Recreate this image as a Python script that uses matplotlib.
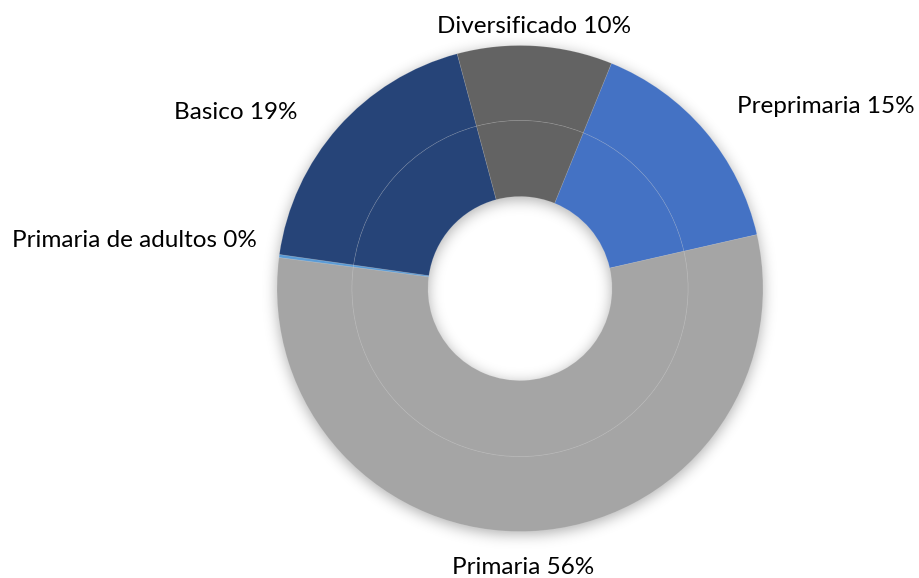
import numpy as np
import matplotlib
matplotlib.use("Agg")
import matplotlib.pyplot as plt

# data (percent share per level)
niveles = ["Preprimaria", "Primaria", "Primaria de adultos", "Basico", "Diversificado"]
valores = [15.3, 55.6, 0.2, 18.6, 10.3]
colores = ["#4472C4", "#A5A5A5", "#5B9BD5", "#264478", "#636363"]

# label placement (pixel x, baseline y from top)
lab_pos = [(826, 113), (523, 574), (134, 247), (236, 119), (534, 33)]

W, H = 919, 578
cx, cy = 520, 288.5
R_out, R_mid, R_in = 243, 168, 92

fig = plt.figure(figsize=(W / 100, H / 100), dpi=100)
ax = fig.add_axes([0, 0, 1, 1])

# soft drop shadow under the donut
yy, xx = np.mgrid[0:H, 0:W] + 0.5
rr = np.hypot(xx - cx, yy - (cy + 3))
mask = ((rr <= R_out) & (rr >= R_in)).astype(float)
k = np.arange(-20, 21)
g = np.exp(-k ** 2 / (2 * 7.0 ** 2))
g /= g.sum()
blur = np.apply_along_axis(lambda r: np.convolve(r, g, mode="same"), 1, mask)
blur = np.apply_along_axis(lambda c: np.convolve(c, g, mode="same"), 0, blur)
img = np.zeros((H, W, 4))
img[..., 3] = blur * 0.32
ax.imshow(img, extent=(0, W, 0, H), origin="upper", zorder=0, interpolation="bilinear")

center = (cx, H - cy)
start = 90 - 22.1
edge = dict(edgecolor=(1, 1, 1, 0.16), linewidth=0.5)
ax.pie(valores, radius=R_out, center=center, colors=colores, startangle=start,
       counterclock=False, wedgeprops=dict(width=R_out - R_mid, **edge))
ax.pie(valores, radius=R_mid, center=center, colors=colores, startangle=start,
       counterclock=False, wedgeprops=dict(width=R_mid - R_in, **edge))

for nom, val, (px, py) in zip(niveles, valores, lab_pos):
    ax.text(px, H - py, f"{nom} {round(val):.0f}%", ha="center", va="baseline",
            fontsize=17.5, family=["Lato", "DejaVu Sans"], color="#000000")

ax.set_xlim(0, W)
ax.set_ylim(0, H)
ax.set_aspect("equal")
ax.axis("off")

fig.savefig("out.png", dpi=100, facecolor="white")
